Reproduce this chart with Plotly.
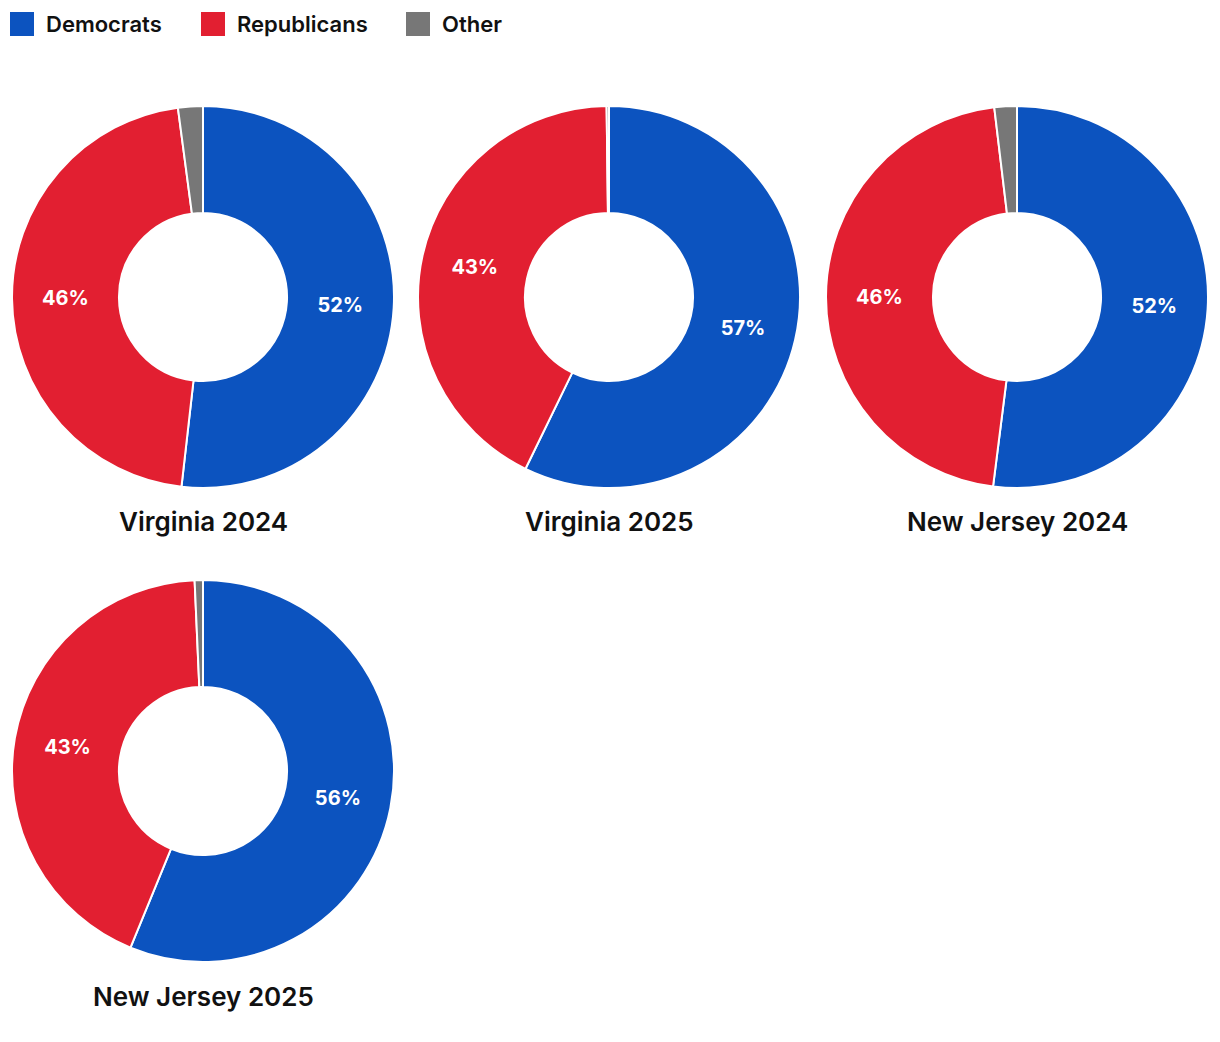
import plotly.graph_objects as go

parties = ["Democrats", "Republicans", "Other"]
colors = ["#0c53bf", "#e21f31", "#777777"]
titles = ["Virginia 2024", "Virginia 2025", "New Jersey 2024", "New Jersey 2025"]
va2024 = [51.8, 46.1, 2.1]
va2025 = [57.2, 42.6, 0.2]
nj2024 = [52.0, 46.1, 1.9]
nj2025 = [56.2, 43.1, 0.7]
series = [va2024, va2025, nj2024, nj2025]

W, H = 1220, 1042
OFF = 8  # page body offset
centers = [(203 - OFF, 297 - OFF), (609 - OFF, 297 - OFF), (1017 - OFF, 297 - OFF), (203 - OFF, 771 - OFF)]
R = 191
FONT = "Inter"

fig = go.Figure()
for i, (vals, (cx, cy)) in enumerate(zip(series, centers)):
    txt = [f"<b>{round(v)}%</b>" if v >= 5 else "" for v in vals]
    fig.add_trace(go.Pie(
        labels=parties, values=vals, text=txt, textinfo="text",
        textposition="inside", insidetextorientation="horizontal",
        hole=0.44, sort=False, direction="clockwise", rotation=0,
        marker=dict(colors=colors, line=dict(color="white", width=2)),
        textfont=dict(color="white", size=20, family=FONT),
        hoverinfo="label+percent", showlegend=False,
        domain=dict(x=[(cx - R) / W, (cx + R) / W],
                    y=[1 - (cy + R) / H, 1 - (cy - R) / H]),
    ))
    fig.add_annotation(text=titles[i], x=cx / W, y=1 - (cy + R + 34) / H,
                       xref="paper", yref="paper", showarrow=False,
                       xanchor="center", yanchor="middle",
                       font=dict(size=26, color="#111111", family=FONT, weight=600))

# legend drawn as squares + labels
leg_x = [10 - OFF, 201 - OFF, 406 - OFF]
for name, col, lx in zip(parties, colors, leg_x):
    fig.add_shape(type="rect", xref="paper", yref="paper",
                  x0=lx / W, x1=(lx + 24) / W, y0=1 - (36 - OFF) / H, y1=1 - (12 - OFF) / H,
                  fillcolor=col, line=dict(width=0))
    fig.add_annotation(text=name, x=(lx + 34) / W, y=1 - (24 - OFF) / H,
                       xref="paper", yref="paper", showarrow=False,
                       xanchor="left", yanchor="middle",
                       font=dict(size=22, color="#111111", family=FONT, weight=600))

fig.update_layout(
    width=W, height=H, margin=dict(l=0, r=0, t=0, b=0),
    paper_bgcolor="white", plot_bgcolor="white",
    font=dict(family=FONT, color="#111111"),
    showlegend=False,
)
fig.write_html("out.html")
